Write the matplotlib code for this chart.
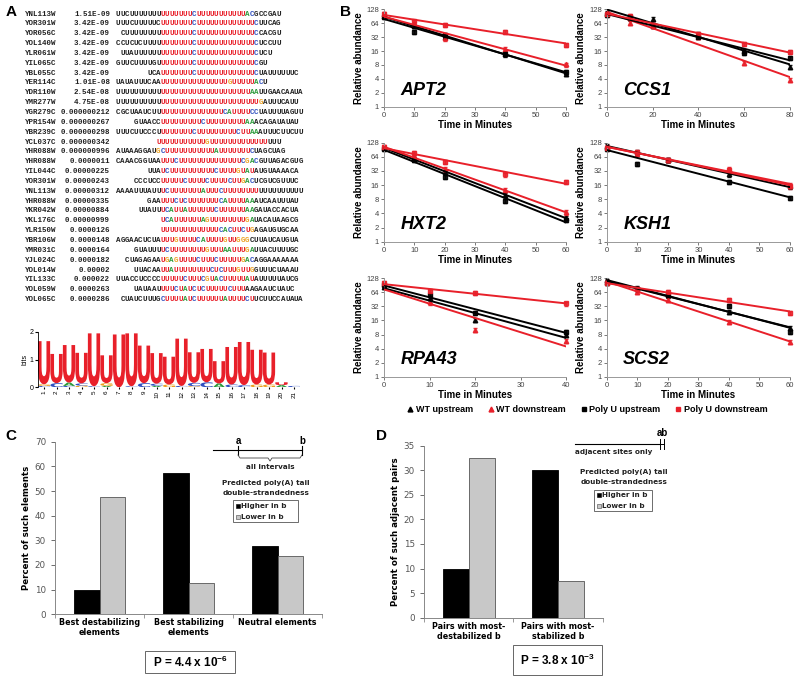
"""Poly(U) elements: sequences/logo (A), decay curves (B), double-strandedness bars (C, D)"""

import matplotlib

matplotlib.use("Agg")
import matplotlib.pyplot as plt
import numpy as np
from matplotlib.font_manager import FontProperties
from matplotlib.lines import Line2D
from matplotlib.patches import PathPatch, Rectangle
from matplotlib.textpath import TextPath
from matplotlib.transforms import Affine2D

plt.rcParams["font.family"] = ["Liberation Sans", "DejaVu Sans"]
plt.rcParams["mathtext.fontset"] = "custom"
plt.rcParams["mathtext.rm"] = "Liberation Sans"
plt.rcParams["mathtext.bf"] = "Liberation Sans:bold"
plt.rcParams["mathtext.default"] = "bf"

# ── panel A data ──
GENES = ["YNL113W", "YOR301W", "YOR056C", "YOL140W", "YLR061W", "YIL065C",
         "YBL055C", "YER114C", "YDR110W", "YMR277W", "YGR279C", "YPR154W",
         "YBR239C", "YCL037C", "YHR088W", "YHR088W", "YIL044C", "YOR301W",
         "YNL113W", "YHR088W", "YKR042W", "YKL176C", "YLR150W", "YBR106W",
         "YMR031C", "YJL024C", "YOL014W", "YIL133C", "YOL059W", "YOL065C"]
PVALS = ["1.51E-09", "3.42E-09", "3.42E-09", "3.42E-09", "3.42E-09", "3.42E-09",
         "3.42E-09", "1.01E-08", "2.54E-08", "4.75E-08", "0.000000212",
         "0.000000267", "0.000000298", "0.000000342", "0.000000996", "0.0000011",
         "0.00000225", "0.00000243", "0.00000312", "0.00000335", "0.00000884",
         "0.00000999", "0.0000126", "0.0000148", "0.0000164", "0.0000182",
         "0.00002", "0.000022", "0.0000263", "0.0000286"]
# [...] marks the aligned motif (coloured by base)
SEQS = [
    "UUCUUUUUUU[UUUUUUUCUUUUUUUUUUUAC]GCCGAU",
    "UUUCUUUUUC[UUUUUUUCUUUUUUUUUUUUUC]UUCAG",
    " CUUUUUUUU[UUUUUUUCUUUUUUUUUUUUUC]CACGU",
    "CCUCUCUUUU[UUUUUUUCUUUUUUUUUUUUUC]UCCUU",
    " UUAUUUUUU[UUUUUUUCUUUUUUUUUUUUUC]UCU",
    "GUUCUUUUGU[UUUUUUUCUUUUUUUUUUUUUC]GU",
    "       UCA[UUUUUUUCUUUUUUUUUUUUUC]UAUUUUUUC",
    "UAUAUUUCAA[UUUUUUUUUUUUUUUGUUUUUAC]U",
    "UUUUUUUUUU[UUUUUUUUUUUUUUUUUUUUAA]UUGAACAAUA",
    "UUUUUUUUUU[UUUUUUUUUUUUUUUUUUUUUUG]AUUUCAUU",
    "CGCUAAUCUU[UUUUUUUUUUUUUUCAUUUUCC]UAUUUUAGUU",
    "    GUAACC[UUUUUUUUUCUUUUUUUUUAA]ACAGAUAUAU",
    "UUUCUUCCCU[UUUUUUUCUUUUUUUUUCUUAA]AUUUCUUCUU",
    "         [UUUUUUUUUUUGUUUUUUUUUUUUU]UUU",
    "AUAAAGGAU[GCUUUUUUUUUUUAUUUUUUUC]UAGCUAG",
    "CAAACGGUAA[UUUCUUUUUUUUUUUUUUCGAC]GUUAGACGUG",
    "       UUA[UCUUUUUUUUUUCUUUUGUAU]AUGUAAAACA",
    "    CCCUCC[UUUUUCUUUUCUUUUCUUGAC]UCGUCGUUUC",
    "AAAAUUUAUU[UCUUUUUUUAUUUCUUUUUUUU]UUUUUUUUUU",
    "       GAA[UUUCUCUUUUUUUCAUUUUAA]AUCAAUUUAU",
    "     UUAUU[UCAUUAUUUUUUCUUUUUUAA]GAUACCACUA",
    "          [UCAUUUUUUAGUUUUUUUUGA]UACAUAAGCG",
    "          [UUUUUUUUUUUUUCACUUCUG]AGAUGUGCAA",
    "AGGAACUCUA[UUUGUUUUCAUUUUGUUGGG]CUUAUCAUGUA",
    "    GUAUUU[UCUUUUUUUUGUUUAAUUUGA]UUACUUUUGC",
    "  CUAGAGAA[UGAGUUUUCUUUCUUUUUGAC]AGGAAAAAAA",
    "    UUACAA[UUAUUUUUUUUCUCUUUGUUG]GUUUCUAAAU",
    "UUACCUCCCC[UUUUUCUUUCGUACUUUUUAU]AUUUUUAUCG",
    "    UAUAAU[UUUCUAUCUCUUUUUCUUU]AAGAAUCUAUC",
    " CUAUCUUUG[CUUUUAUCUUUUUUAUUUUCU]UCUUCCAUAUA",
]
LOGO_POS = list(range(1, 22))
LOGO_U = [1.55, 1.05, 1.35, 1.1, 1.9, 1.0, 1.9, 1.9, 1.35, 1.1, 1.0,
          1.7, 1.1, 1.2, 0.8, 1.35, 1.55, 1.25, 1.15, 0.1, 0.0]
LOGO_MINOR = [
    [("C", 0.05), ("G", 0.06)], [("C", 0.15)], [("C", 0.05), ("A", 0.12)],
    [("G", 0.06), ("C", 0.08)], [("C", 0.04)], [("A", 0.05), ("G", 0.1)],
    [], [("C", 0.04)], [("C", 0.15)], [("A", 0.05), ("C", 0.08)],
    [("G", 0.1)], [("C", 0.05)], [("G", 0.04), ("C", 0.12)], [("C", 0.18)],
    [("A", 0.14)], [("C", 0.1)], [("C", 0.08)], [("G", 0.1)], [("G", 0.1)],
    [("A", 0.08)], [("C", 0.05)],
]

# ── panel B data (relative abundance vs time) ──
APT2_T = [0, 10, 20, 40, 60]
APT2_WT_UP = [90, 55, 33, 14, 5.2]
APT2_WT_DN = [100, 62, 30, 18, 8.2]
APT2_PU_UP = [88, 42, 35, 13.5, 5.6]
APT2_PU_DN = [100, 70, 60, 42, 22]

CCS1_T = [0, 10, 20, 40, 60, 80]
CCS1_WT_UP = [105, 85, 80, 38, 16, 7.3]
CCS1_WT_DN = [100, 65, 55, 33, 9, 3.8]
CCS1_PU_UP = [95, 88, 55, 33, 14.5, 11.5]
CCS1_PU_DN = [100, 90, 60, 38, 23, 15.5]

HXT2_T = [0, 10, 20, 40, 60]
HXT2_WT_UP = [100, 58, 30, 10, 3.2]
HXT2_WT_DN = [105, 62, 35, 12.5, 4.2]
HXT2_PU_UP = [95, 55, 24, 7.4, 2.9]
HXT2_PU_DN = [105, 76, 50, 27, 19]

KSH1_T = [0, 10, 20, 40, 60]
KSH1_WT_UP = [110, 80, 55, 27, 15]
KSH1_WT_DN = [105, 75, 55, 35, 16]
KSH1_PU_UP = [95, 45, 55, 19, 8.4]
KSH1_PU_DN = [100, 80, 55, 33, 15]

RPA43_T = [0, 10, 20, 40]
RPA43_WT_UP = [85, 48, 16.4, 7.8]
RPA43_WT_DN = [95, 39, 10, 5.9]
RPA43_PU_UP = [90, 56, 23.5, 9.2]
RPA43_PU_DN = [100, 69, 63, 37]

SCS2_T = [0, 10, 20, 40, 60]
SCS2_WT_UP = [115, 80, 55, 24.6, 11]
SCS2_WT_DN = [105, 66, 44, 15, 5.6]
SCS2_PU_UP = [100, 75, 56, 33, 9.2]
SCS2_PU_DN = [100, 75, 65, 45, 23]

ERR_FRAC = 0.1
SERIES_LABELS = ["WT upstream", "WT downstream", "Poly U upstream", "Poly U downstream"]

# ── panels C, D data ──
C_CATS = ["Best destabilizing\nelements", "Best stabilizing\nelements", "Neutral elements"]
C_HIGHER = [10, 57.5, 27.7]
C_LOWER = [47.5, 12.7, 23.7]
D_CATS = ["Pairs with most-\ndestabilized b", "Pairs with most-\nstabilized b"]
D_HIGHER = [10, 30]
D_LOWER = [32.5, 7.4]

RED = "#e8202a"
BLUE = "#3050c0"
GREEN = "#2a9a3a"
ORANGE = "#eca020"
TXT = "#222222"
NT_COLORS = {"U": RED, "C": BLUE, "A": GREEN, "G": ORANGE}

W, H = 800, 682
fig = plt.figure(figsize=(8, 6.82), dpi=100, facecolor="white")


def px(x0, y0, x1, y1):
    return [x0 / W, 1 - y1 / H, (x1 - x0) / W, (y1 - y0) / H]


# ═════════ A: sequence logo ═════════
LOGO_FP = FontProperties(family="DejaVu Sans", weight="bold")


def draw_letter(ax, ch, xc, y0, h, color, w=0.98):
    if h <= 0:
        return
    tp = TextPath((0, 0), ch, size=1, prop=LOGO_FP)
    bb = tp.get_extents()
    tr = (Affine2D().translate(-bb.x0, -bb.y0)
          .scale(w / bb.width, h / bb.height).translate(xc - w / 2, y0))
    ax.add_patch(PathPatch(tr.transform_path(tp), fc=color, lw=0))


axl = fig.add_axes(px(37.75, 331.7, 300.25, 387.3))
for pos, u, minor in zip(LOGO_POS, LOGO_U, LOGO_MINOR):
    y = 0.0
    for ch, h in minor:
        draw_letter(axl, ch, pos, y, h, NT_COLORS[ch])
        y += h
    draw_letter(axl, "U", pos, y, u, RED)
axl.set_xlim(0.5, 21.5)
axl.set_ylim(0, 2)
axl.set_yticks([0, 1, 2])
axl.set_xticks(LOGO_POS)
axl.set_xticklabels([str(p) for p in LOGO_POS], rotation=90, fontsize=4.5)
axl.tick_params(axis="y", labelsize=5, length=2, pad=1)
axl.tick_params(axis="x", length=1.5, pad=1)
axl.set_ylabel("bits", fontsize=5, labelpad=1)
for s in ["top", "right", "bottom"]:
    axl.spines[s].set_visible(False)
axl.spines["left"].set_linewidth(0.6)

# ═════════ B: decay curves ═════════
B_PANELS = [
    ("APT2", APT2_T, [APT2_WT_UP, APT2_WT_DN, APT2_PU_UP, APT2_PU_DN], (384, 9.3, 566, 106.7), 10),
    ("CCS1", CCS1_T, [CCS1_WT_UP, CCS1_WT_DN, CCS1_PU_UP, CCS1_PU_DN], (606.7, 9.3, 790, 106.7), 20),
    ("HXT2", HXT2_T, [HXT2_WT_UP, HXT2_WT_DN, HXT2_PU_UP, HXT2_PU_DN], (384, 142.7, 566, 241.7), 10),
    ("KSH1", KSH1_T, [KSH1_WT_UP, KSH1_WT_DN, KSH1_PU_UP, KSH1_PU_DN], (606.7, 142.7, 790, 241.7), 10),
    ("RPA43", RPA43_T, [RPA43_WT_UP, RPA43_WT_DN, RPA43_PU_UP, RPA43_PU_DN], (384, 278.3, 566, 376.7), 10),
    ("SCS2", SCS2_T, [SCS2_WT_UP, SCS2_WT_DN, SCS2_PU_UP, SCS2_PU_DN], (606.7, 278.3, 790, 376.7), 10),
]
STYLES = [("^", "black"), ("^", RED), ("s", "black"), ("s", RED)]

for name, t, series, rect, step in B_PANELS:
    ax = fig.add_axes(px(*rect))
    t = np.array(t, dtype=float)
    for vals, (mk, col) in zip(series, STYLES):
        v = np.array(vals, dtype=float)
        ax.errorbar(t, v, yerr=v * ERR_FRAC, fmt=mk, color=col, ms=3.2,
                    elinewidth=0.6, capsize=1.2, ecolor=col, alpha=0.9,
                    zorder=2, clip_on=False)
        k, b = np.polyfit(t, np.log2(v), 1)
        tt = np.array([t[0], t[-1]])
        ax.plot(tt, 2 ** (b + k * tt), color=col, lw=1.4, zorder=3)
    ax.set_yscale("log", base=2)
    ax.set_ylim(1, 128)
    ax.set_xlim(0, t[-1])
    yt = [1, 2, 4, 8, 16, 32, 64, 128]
    ax.set_yticks(yt)
    ax.set_yticklabels([str(v) for v in yt])
    ax.minorticks_off()
    ax.set_xticks(np.arange(0, t[-1] + 1, step))
    ax.tick_params(labelsize=5.5, colors="#444", length=2, width=0.5, pad=1.5)
    for s in ["top", "right"]:
        ax.spines[s].set_visible(False)
    for s in ["left", "bottom"]:
        ax.spines[s].set_color("#999")
        ax.spines[s].set_linewidth(0.7)
    ax.set_xlabel("Time in Minutes", fontsize=7, fontweight="bold", labelpad=1)
    ax.set_ylabel("Relative abundance", fontsize=7, fontweight="bold", labelpad=2)
    ax.text(0.09, 0.17, name, transform=ax.transAxes, fontsize=13,
            fontweight="bold", fontstyle="italic", va="center")

handles = [Line2D([], [], marker=mk, color=col, ls="none", ms=3.5) for mk, col in STYLES]
fig.legend(handles, SERIES_LABELS, loc="center", bbox_to_anchor=(587 / W, 1 - 410 / H),
           ncol=4, frameon=False, prop={"size": 6.5, "weight": "bold"},
           handletextpad=0.2, columnspacing=1.6, handlelength=0.8)


# ═════════ C, D: bar charts ═════════
def bar_panel(rect, cats, higher, lower, ymax, ystep, ylabel):
    ax = fig.add_axes(px(*rect))
    x = np.arange(len(cats))
    w = 0.29
    ax.bar(x - w / 2, higher, w, color="black", edgecolor="black", lw=0.6)
    ax.bar(x + w / 2, lower, w, color="#c8c8c8", edgecolor="#555", lw=0.6)
    ax.set_xlim(-0.5, len(cats) - 0.5)
    ax.set_ylim(0, ymax)
    ax.set_yticks(np.arange(0, ymax + 1, ystep))
    ax.set_xticks(x)
    ax.set_xticklabels(cats, fontsize=5.8, fontweight="bold", family="DejaVu Sans",
                       linespacing=1.1)
    ax.set_xticks(np.arange(-0.5, len(cats)), minor=True)
    ax.tick_params(axis="x", which="major", length=0, pad=3)
    ax.tick_params(axis="x", which="minor", length=3, width=0.6, color="#888")
    ax.tick_params(axis="y", labelsize=6.3, colors="#555", length=3, width=0.6)
    for lab in ax.get_yticklabels():
        lab.set_family("DejaVu Sans")
    for s in ["top", "right"]:
        ax.spines[s].set_visible(False)
    for s in ["left", "bottom"]:
        ax.spines[s].set_color("#888")
        ax.spines[s].set_linewidth(0.7)
    ax.set_ylabel(ylabel, fontsize=6.2, fontweight="bold", family="DejaVu Sans", labelpad=3)
    return ax


bar_panel((55, 441.7, 322, 614.3), C_CATS, C_HIGHER, C_LOWER, 70, 10,
          "Percent of such elements")
bar_panel((424, 445.7, 602.7, 617.7), D_CATS, D_HIGHER, D_LOWER, 35, 5,
          "Percent of such adjacent pairs")

# ═════════ overlay: texts, insets, panel labels ═════════
ov = fig.add_axes([0, 0, 1, 1], zorder=10)
ov.set_xlim(0, W)
ov.set_ylim(H, 0)
ov.axis("off")
ov.patch.set_visible(False)

MONO = dict(family="Liberation Mono", fontsize=5.4, fontweight="bold", va="center")
for r, (g, p, s) in enumerate(zip(GENES, PVALS, SEQS)):
    y = 14 + r * 9.85
    ov.text(25, y, g, color=TXT, ha="left", **MONO)
    ov.text(110, y, p, color=TXT, ha="right", **MONO)
    inside = False
    col = 0
    for ch in s:
        if ch == "[":
            inside = True
            continue
        if ch == "]":
            inside = False
            continue
        if ch != " ":
            ov.text(116 + col * 4.45, y, ch, color=NT_COLORS[ch] if inside else TXT,
                    ha="left", **MONO)
        col += 1

for lab, x, y in [("A", 6, 12), ("B", 340, 12), ("C", 5, 436), ("D", 376, 436)]:
    ov.text(x, y, lab, fontsize=11, fontweight="bold", ha="left", va="center")

SMALL = dict(fontsize=5.2, fontweight="bold", family="DejaVu Sans", color=TXT)

# C inset
ov.plot([213, 302], [450, 450], color="black", lw=0.8)
ov.plot([238, 238], [446, 455], color="black", lw=0.8)
ov.plot([302, 302], [446, 455], color="black", lw=0.8)
ov.text(238, 441, "a", ha="center", va="center", fontsize=7, fontweight="bold")
ov.text(302, 441, "b", ha="center", va="center", fontsize=7, fontweight="bold")
ov.plot([238, 240, 268, 270, 272, 300, 302], [455, 458, 458, 461, 458, 458, 455],
        color="#444", lw=0.6)
ov.text(270, 467, "all intervals", ha="center", va="center", **SMALL)
ov.text(266, 483, "Predicted poly(A) tail", ha="center", va="center", **SMALL)
ov.text(266, 493, "double-strandedness", ha="center", va="center", **SMALL)
ov.add_patch(Rectangle((233, 500), 65, 22, fc="white", ec="#555", lw=0.6))
ov.add_patch(Rectangle((236, 503.5), 4, 4, fc="black", ec="black", lw=0.4))
ov.add_patch(Rectangle((236, 515), 4, 4, fc="#c8c8c8", ec="#444", lw=0.4))
ov.text(241, 505.7, "Higher in b", ha="left", va="center", **SMALL)
ov.text(241, 517.3, "Lower in b", ha="left", va="center", **SMALL)

# D inset
ov.plot([575, 660], [444, 444], color="black", lw=0.8)
ov.plot([659.5, 659.5], [439, 449], color="black", lw=0.7)
ov.plot([663.5, 663.5], [439, 449], color="black", lw=0.7)
ov.plot([659.5, 663.5], [444, 444], color="black", lw=0.7)
ov.text(662, 433, "ab", ha="center", va="center", fontsize=7, fontweight="bold")
ov.text(575, 452, "adjacent sites only", ha="left", va="center", **SMALL)
ov.text(624, 472.3, "Predicted poly(A) tail", ha="center", va="center", **SMALL)
ov.text(624, 482.3, "double-strandedness", ha="center", va="center", **SMALL)
ov.add_patch(Rectangle((594.3, 490), 57.4, 21, fc="white", ec="#555", lw=0.6))
ov.add_patch(Rectangle((597, 493), 4, 4, fc="black", ec="black", lw=0.4))
ov.add_patch(Rectangle((597, 504), 4, 4, fc="#c8c8c8", ec="#444", lw=0.4))
ov.text(602, 495, "Higher in b", ha="left", va="center", **SMALL)
ov.text(602, 506, "Lower in b", ha="left", va="center", **SMALL)

# P-value boxes
ov.add_patch(Rectangle((145, 650.7), 90, 22, fc="white", ec="#666", lw=0.7))
ov.text(190, 662, r"P = 4.4 x 10$^{-6}$", ha="center", va="center", fontsize=8.5,
        fontweight="bold")
ov.add_patch(Rectangle((512.7, 645), 89, 30, fc="white", ec="#666", lw=0.7))
ov.text(557, 660, r"P = 3.8 x 10$^{-3}$", ha="center", va="center", fontsize=8.5,
        fontweight="bold")

fig.savefig("out.png", dpi=100, facecolor="white")
